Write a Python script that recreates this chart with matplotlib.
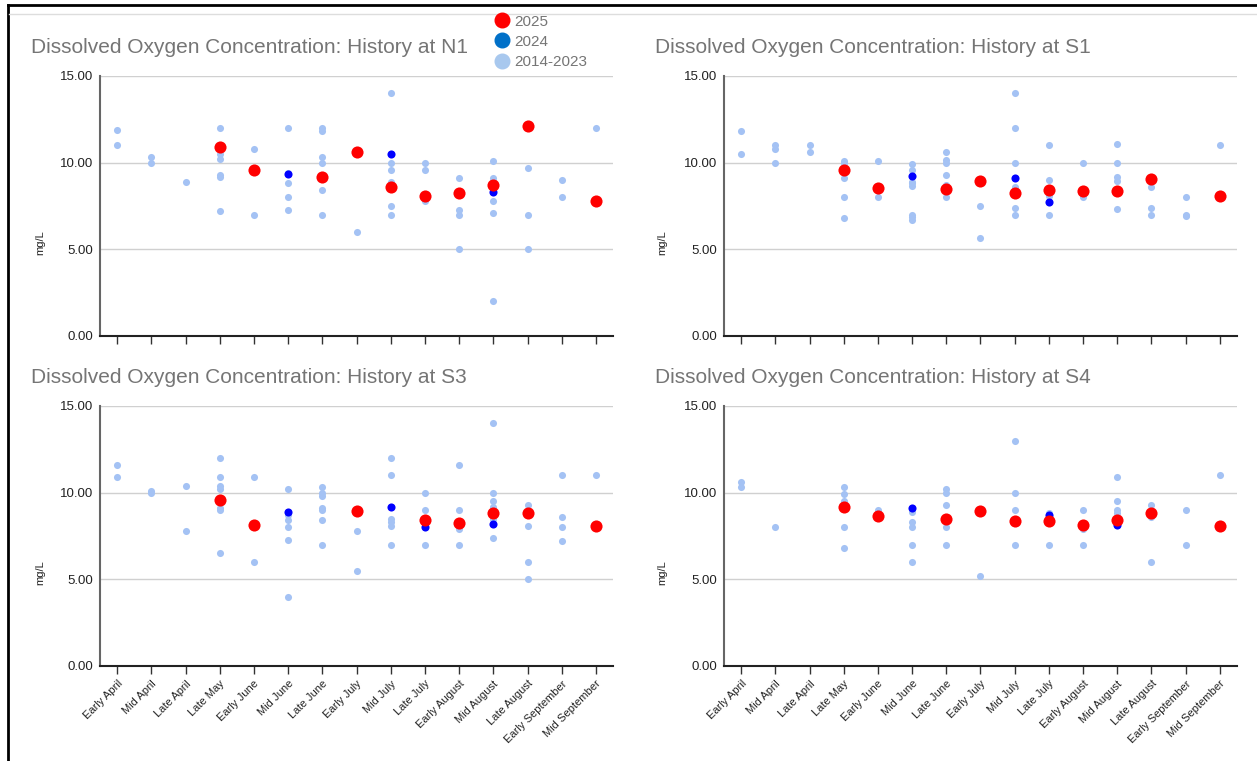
import matplotlib
matplotlib.use("Agg")
import matplotlib.pyplot as plt
from matplotlib.lines import Line2D

plt.rcParams['font.family'] = ['Liberation Sans', 'DejaVu Sans']

# x categories (sampling periods)
categories = ["Early April", "Mid April", "Late April", "Late May", "Early June",
              "Mid June", "Late June", "Early July", "Mid July", "Late July",
              "Early August", "Mid August", "Late August", "Early September",
              "Mid September"]

# 2014-2023 history, one list per category
hist_n1 = [[11.9, 11.0], [10.3, 10.0], [8.9], [12.0, 10.5, 10.2, 9.3, 9.2, 7.2],
           [10.8, 7.0], [12.0, 9.4, 8.8, 8.0, 7.25], [12.0, 11.8, 10.3, 10.0, 8.4, 7.0],
           [6.0], [14.0, 10.0, 9.6, 8.9, 7.5, 7.0], [10.0, 9.6, 7.8],
           [9.1, 7.25, 7.0, 5.0], [10.1, 9.1, 8.9, 7.8, 7.1, 2.0], [9.7, 7.0, 5.0],
           [9.0, 8.0], [12.0]]
hist_s1 = [[11.8, 10.5], [11.0, 10.8, 10.0], [11.0, 10.6], [10.1, 10.0, 9.1, 8.0, 6.8],
           [10.1, 8.0], [9.9, 9.6, 8.9, 8.8, 8.65, 7.0, 6.85, 6.7],
           [10.6, 10.15, 10.0, 9.3, 8.7, 8.0], [7.5, 5.65],
           [14.0, 12.0, 10.0, 8.6, 7.4, 7.0], [11.0, 9.0, 8.1, 7.0], [10.0, 8.0],
           [11.1, 10.0, 9.2, 8.95, 7.3], [8.6, 7.4, 7.0], [8.0, 7.0, 6.9], [11.0]]
hist_s3 = [[11.6, 10.9], [10.1, 10.0], [10.4, 7.8], [12.0, 10.9, 10.4, 10.2, 9.1, 9.0, 6.5],
           [10.9, 6.0], [10.2, 8.7, 8.4, 8.0, 7.25, 4.0],
           [10.3, 10.0, 9.8, 9.1, 9.0, 8.4, 7.0], [7.8, 5.5],
           [12.0, 11.0, 8.5, 8.3, 8.1, 7.0], [10.0, 9.0, 7.0], [11.6, 9.0, 7.9, 7.0],
           [14.0, 10.0, 9.5, 9.2, 8.5, 7.4], [9.3, 8.1, 6.0, 5.0], [11.0, 8.6, 8.0, 7.2],
           [11.0]]
hist_s4 = [[10.6, 10.3], [8.0], [], [10.3, 9.9, 9.5, 8.0, 6.8], [9.0],
           [8.9, 8.3, 8.0, 7.0, 6.0], [10.2, 10.0, 9.3, 8.0, 7.0], [5.2],
           [13.0, 10.0, 9.0, 7.0], [8.85, 7.0], [9.0, 7.9, 7.0], [10.9, 9.5, 9.0, 8.8],
           [9.3, 8.6, 6.0], [9.0, 7.0], [11.0]]

# 2024 values (None = no sample)
y2024_n1 = [None, None, None, None, None, 9.35, None, None, 10.5, None, None, 8.3, None, None, None]
y2024_s1 = [None, None, None, None, None, 9.25, None, None, 9.1, 7.75, None, 8.3, None, None, None]
y2024_s3 = [None, None, None, None, None, 8.9, None, None, 9.2, 8.0, None, 8.2, None, None, None]
y2024_s4 = [None, None, None, None, None, 9.1, None, None, None, 8.7, None, 8.15, None, None, None]

# 2025 values
y2025_n1 = [None, None, None, 10.9, 9.55, None, 9.15, 10.6, 8.6, 8.05, 8.25, 8.7, 12.1, None, 7.8]
y2025_s1 = [None, None, None, 9.55, 8.55, None, 8.5, 8.95, 8.25, 8.45, 8.35, 8.35, 9.05, None, 8.05]
y2025_s3 = [None, None, None, 9.55, 8.15, None, None, 8.95, None, 8.45, 8.25, 8.8, 8.85, None, 8.1]
y2025_s4 = [None, None, None, 9.2, 8.65, None, 8.5, 8.95, 8.35, 8.35, 8.15, 8.45, 8.8, None, 8.05]

stations = ["N1", "S1", "S3", "S4"]
hists = [hist_n1, hist_s1, hist_s3, hist_s4]
y2024s = [y2024_n1, y2024_s1, y2024_s3, y2024_s4]
y2025s = [y2025_n1, y2025_s1, y2025_s3, y2025_s4]

LIGHT = "#a4c2f4"
BLUE = "#0000ff"
RED = "#ff0000"
GREY_TXT = "#757575"

W, H = 1257, 761
fig = plt.figure(figsize=(W / 100, H / 100), dpi=100)

# panel boxes in pixels: left, top
boxes = [(100, 76), (724, 76), (100, 406), (724, 406)]
pw, ph = 513, 260

for i, st in enumerate(stations):
    left, top = boxes[i]
    ax = fig.add_axes([left / W, (H - top - ph) / H, pw / W, ph / H])

    hx, hy = [], []
    for j, vals in enumerate(hists[i]):
        for v in vals:
            hx.append(j)
            hy.append(v)
    ax.scatter(hx, hy, s=26, color=LIGHT, linewidths=0, zorder=3)

    bx = [j for j, v in enumerate(y2024s[i]) if v is not None]
    by = [v for v in y2024s[i] if v is not None]
    ax.scatter(bx, by, s=34, color=BLUE, linewidths=0, zorder=4)

    rx = [j for j, v in enumerate(y2025s[i]) if v is not None]
    ry = [v for v in y2025s[i] if v is not None]
    ax.scatter(rx, ry, s=76, color=RED, linewidths=0, zorder=5)

    ax.set_xlim(-0.5, len(categories) - 0.5)
    ax.set_ylim(0, 15)
    ax.set_yticks([0, 5, 10, 15])
    ax.set_yticklabels(["%.2f" % t for t in [0, 5, 10, 15]])
    ax.set_xticks(range(len(categories)))
    if i >= 2:
        ax.set_xticklabels(categories, rotation=45, ha="right", rotation_mode="anchor",
                           fontsize=8, color="#222222")
    else:
        ax.set_xticklabels([])
    ax.tick_params(axis="y", length=0, pad=5, labelsize=9.5, labelcolor="#222222")
    ax.tick_params(axis="x", direction="out", length=6, width=1, color="#333333", pad=3)
    for t in [5, 10, 15]:
        ax.axhline(t, color="#d0d0d0", lw=1, zorder=1)
    ax.spines["top"].set_visible(False)
    ax.spines["right"].set_visible(False)
    ax.spines["left"].set_color("#666666")
    ax.spines["left"].set_linewidth(1.5)
    ax.spines["bottom"].set_color("#222222")
    ax.spines["bottom"].set_linewidth(1.5)
    ax.spines["bottom"].set_zorder(6)

    # title and y label
    tx = 31 if i % 2 == 0 else 655
    fig.text(tx / W, 1 - (top - 23) / H, "Dissolved Oxygen Concentration: History at " + st,
             fontsize=15, color=GREY_TXT, va="baseline", ha="left")
    lx = 40 if i % 2 == 0 else 662
    fig.text(lx / W, 1 - (top + 167) / H, "mg/L", rotation=90, fontsize=8,
             color="#222222", ha="center", va="center")

# legend
handles = [Line2D([], [], marker="o", ls="none", color=RED, markersize=10.5),
           Line2D([], [], marker="o", ls="none", color="#0070c8", markersize=10.5),
           Line2D([], [], marker="o", ls="none", color="#a8c8ee", markersize=10.5)]
fig.legend(handles, ["2025", "2024", "2014-2023"], loc="upper left",
           bbox_to_anchor=(485 / W, 1 - 7 / H), frameon=False, fontsize=11,
           labelcolor=GREY_TXT, handletextpad=0.2, labelspacing=0.4,
           borderpad=0, handlelength=1.2)

# screenshot frame
fig.add_artist(Line2D([8 / W, 1], [1 - 5 / H, 1 - 5 / H], color="black", lw=2))
fig.add_artist(Line2D([8 / W, 8 / W], [0, 1 - 5 / H], color="black", lw=2))
fig.add_artist(Line2D([9 / W, 1], [1 - 14 / H, 1 - 14 / H], color="#dddddd", lw=1))

fig.savefig("out.png", dpi=100)
